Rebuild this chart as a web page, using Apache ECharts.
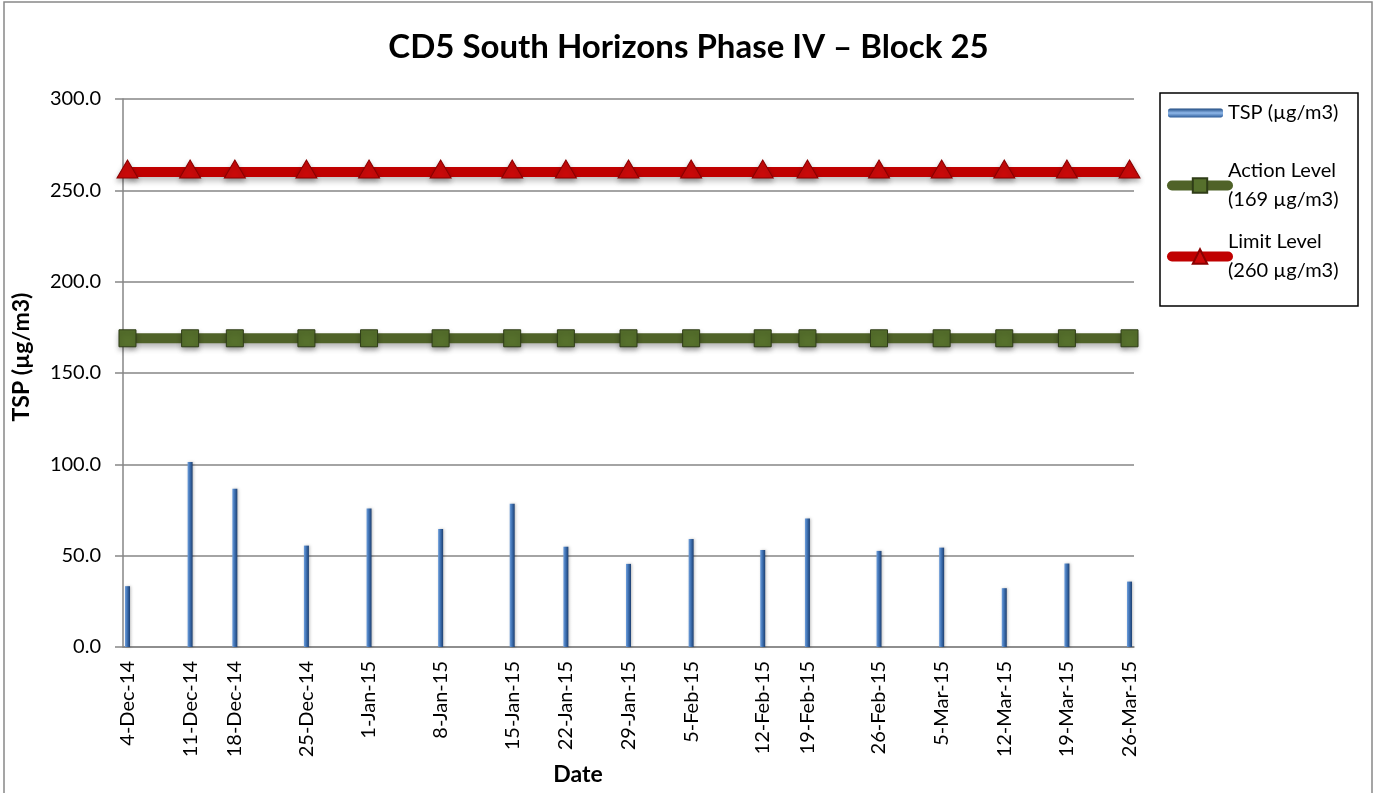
<!DOCTYPE html>
<html>
<head>
<meta charset="utf-8">
<script src="https://cdn.jsdelivr.net/npm/echarts@6/dist/echarts.min.js"></script>
<style>
html,body{margin:0;padding:0;background:#fff;}
#chart{width:1377px;height:793px;}
</style>
</head>
<body>
<div id="chart"></div>
<script>
// ---- data ----
var sampleDates = ['2014-12-04','2014-12-11','2014-12-16','2014-12-24','2014-12-31','2015-01-08','2015-01-16','2015-01-22','2015-01-29','2015-02-05','2015-02-13','2015-02-18','2015-02-26','2015-03-05','2015-03-12','2015-03-19','2015-03-26'];
var tickLabels = ['4-Dec-14','11-Dec-14','18-Dec-14','25-Dec-14','1-Jan-15','8-Jan-15','15-Jan-15','22-Jan-15','29-Jan-15','5-Feb-15','12-Feb-15','19-Feb-15','26-Feb-15','5-Mar-15','12-Mar-15','19-Mar-15','26-Mar-15'];
var tspValues = [33.3, 101.3, 86.7, 55.5, 75.8, 64.6, 78.4, 54.9, 45.5, 59.1, 53.1, 70.4, 52.6, 54.4, 32.2, 45.7, 35.8];
var actionLevel = 169;
var limitLevel = 260;
var seriesNames = ['TSP (µg/m3)', 'Action Level\n(169 µg/m3)', 'Limit Level\n(260 µg/m3)'];

// ---- build ----
var FONT = 'Lato';
var DAY = 24 * 3600 * 1000;
function toUTC(s) { var p = s.split('-'); return Date.UTC(+p[0], +p[1] - 1, +p[2]); }
var t0 = toUTC(sampleDates[0]);
// x positions as days elapsed since the first sample date
var dayPos = sampleDates.map(function (d) { return Math.round((toUTC(d) - t0) / DAY); });
var xMin = dayPos[0] - 0.5;
var xMax = dayPos[dayPos.length - 1] + 0.5;

function labelFor(v) {
  var best = 0, bd = Infinity;
  for (var i = 0; i < dayPos.length; i++) {
    var d = Math.abs(dayPos[i] - v);
    if (d < bd) { bd = d; best = i; }
  }
  return tickLabels[best];
}

var chart = echarts.init(document.getElementById('chart'), null, {renderer: 'canvas'});
var barGrad = new echarts.graphic.LinearGradient(0, 0, 1, 0, [
  {offset: 0, color: '#6f9fdc'},
  {offset: 0.45, color: '#3f72b4'},
  {offset: 1, color: '#1d3f70'}
]);
var legendBarGrad = new echarts.graphic.LinearGradient(0, 0, 0, 1, [
  {offset: 0, color: '#1f4a80'},
  {offset: 0.5, color: '#8fb8ea'},
  {offset: 1, color: '#2c5b98'}
]);

var option = {
  backgroundColor: '#ffffff',
  animation: false,
  title: {
    text: 'CD5 South Horizons Phase IV – Block 25',
    left: 'center',
    top: 26,
    textStyle: {fontFamily: FONT, fontSize: 33, fontWeight: 'bold', color: '#000'}
  },
  grid: {left: 123, right: 243, top: 99, bottom: 146, containLabel: false},
  xAxis: {
    type: 'value',
    min: xMin,
    max: xMax,
    axisLine: {show: true, onZero: false, lineStyle: {color: '#868686', width: 1.5}},
    axisTick: {show: false},
    splitLine: {show: false},
    axisLabel: {
      customValues: dayPos,
      rotate: 90,
      margin: 14,
      fontFamily: FONT,
      fontSize: 20,
      color: '#000',
      formatter: function (v) { return labelFor(v); }
    }
  },
  yAxis: {
    type: 'value',
    min: 0,
    max: 300,
    interval: 50,
    axisLine: {show: true, onZero: false, lineStyle: {color: '#868686', width: 1.5}},
    axisTick: {show: true, length: 8, lineStyle: {color: '#868686', width: 1.5}},
    splitLine: {show: true, lineStyle: {color: '#868686', width: 1.5}},
    axisLabel: {
      margin: 22,
      fontFamily: FONT,
      fontSize: 20,
      color: '#000',
      formatter: function (v) { return v.toFixed(1); }
    }
  },
  legend: [
    {
      data: [{name: seriesNames[0], itemStyle: {color: legendBarGrad}}],
      orient: 'vertical', left: 1168, top: 103, padding: 0,
      itemWidth: 55, itemHeight: 9, itemGap: 0,
      textStyle: {fontFamily: FONT, fontSize: 20, color: '#000'}
    },
    {
      data: [seriesNames[1]],
      orient: 'vertical', left: 1167, top: 142, padding: 0,
      itemWidth: 56, itemHeight: 18, itemGap: 0,
      lineStyle: {width: 10, cap: 'round'},
      textStyle: {fontFamily: FONT, fontSize: 20, color: '#000', lineHeight: 29, padding: [29, 0, 0, -5]}
    },
    {
      data: [seriesNames[2]],
      orient: 'vertical', left: 1167, top: 213, padding: 0,
      itemWidth: 56, itemHeight: 18, itemGap: 0,
      lineStyle: {width: 10, cap: 'round'},
      textStyle: {fontFamily: FONT, fontSize: 20, color: '#000', lineHeight: 29, padding: [29, 0, 0, -5]}
    }
  ],
  graphic: [
    {type: 'rect', silent: true, z: -1, shape: {x: 4, y: 2, width: 1368, height: 800},
     style: {fill: null, stroke: '#888888', lineWidth: 1.5}},
    {type: 'rect', silent: true, shape: {x: 1160, y: 93, width: 198, height: 213},
     style: {fill: null, stroke: '#000000', lineWidth: 1.5}},
    {type: 'text', silent: true, x: 22, y: 357, rotation: Math.PI / 2,
     style: {text: 'TSP (µg/m3)', fontFamily: FONT, fontSize: 23, fontWeight: 'bold', fill: '#000', align: 'center', verticalAlign: 'middle'}},
    {type: 'text', silent: true, x: 578, y: 775,
     style: {text: 'Date', fontFamily: FONT, fontSize: 23, fontWeight: 'bold', fill: '#000', align: 'center', verticalAlign: 'middle'}}
  ],
  series: [
    {
      name: seriesNames[0],
      type: 'bar',
      barWidth: 5,
      data: dayPos.map(function (d, i) { return [d, tspValues[i]]; }),
      itemStyle: {color: barGrad, shadowColor: 'rgba(0,0,0,0.25)', shadowBlur: 3, shadowOffsetX: 1},
      z: 2
    },
    {
      name: seriesNames[1],
      type: 'line',
      data: dayPos.map(function (d) { return [d, actionLevel]; }),
      symbol: 'rect',
      symbolSize: 17,
      lineStyle: {color: '#4F6228', width: 10, shadowColor: 'rgba(0,0,0,0.3)', shadowBlur: 6, shadowOffsetY: 4},
      itemStyle: {color: '#56702c', borderColor: '#2f3d17', borderWidth: 1, shadowColor: 'rgba(0,0,0,0.3)', shadowBlur: 5, shadowOffsetY: 3},
      z: 3
    },
    {
      name: seriesNames[2],
      type: 'line',
      data: dayPos.map(function (d) { return [d, limitLevel]; }),
      symbol: 'triangle',
      symbolSize: [21, 18],
      symbolOffset: [0, -3],
      lineStyle: {color: '#C00000', width: 10, shadowColor: 'rgba(0,0,0,0.25)', shadowBlur: 6, shadowOffsetY: 4},
      itemStyle: {color: '#cc0a0a', borderColor: '#8a0000', borderWidth: 1, shadowColor: 'rgba(0,0,0,0.3)', shadowBlur: 5, shadowOffsetY: 3},
      z: 4
    }
  ]
};
chart.setOption(option);
</script>
</body>
</html>
